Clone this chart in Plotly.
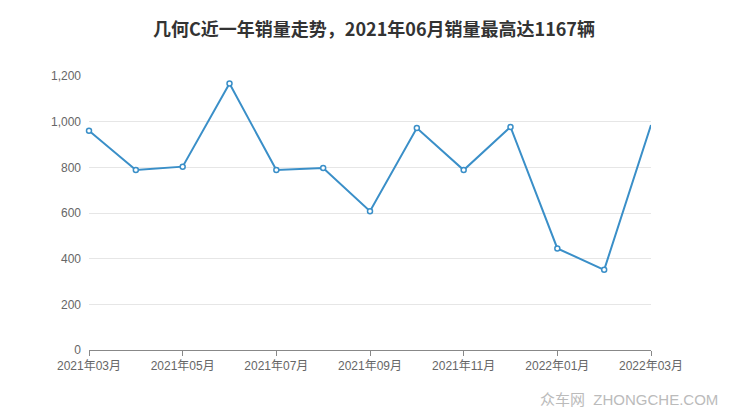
import plotly.graph_objects as go

months = ["2021年03月", "2021年04月", "2021年05月", "2021年06月", "2021年07月",
          "2021年08月", "2021年09月", "2021年10月", "2021年11月", "2021年12月",
          "2022年01月", "2022年02月", "2022年03月"]
sales = [960, 788, 803, 1167, 788, 797, 608, 972, 788, 977, 445, 351, 985]
tick_labels = months[::2]
y_ticks = [0, 200, 400, 600, 800, 1000, 1200]

FONT = "Liberation Sans, Noto Sans CJK SC, sans-serif"
BLUE = "#3a8fc8"

# page body has an 8px margin, so the figure is drawn 8px in from the corner
W, H = 732, 409
L, R, T, B = 81, 89, 68, 67
PW, PH = W - L - R, H - T - B

fig = go.Figure()
fig.add_trace(go.Scatter(
    x=months, y=sales, mode="lines",
    line=dict(color=BLUE, width=2),
    cliponaxis=False, hoverinfo="skip",
))
# the reference shows no marker on the final point
fig.add_trace(go.Scatter(
    x=months[:-1], y=sales[:-1], mode="markers",
    marker=dict(size=5, color="white", line=dict(color=BLUE, width=1.5)),
    cliponaxis=False,
))

fig.update_layout(
    width=W, height=H,
    margin=dict(l=L, r=R, t=T, b=B),
    paper_bgcolor="white", plot_bgcolor="white",
    showlegend=False,
    title=dict(text="几何C近一年销量走势，2021年06月销量最高达1167辆",
               x=0.5, xanchor="center", y=1 - 22 / H, yanchor="middle",
               font=dict(family="Noto Sans CJK SC, sans-serif", size=18, color="#333333", weight="bold")),
    font=dict(family=FONT, size=12, color="#666666"),
)
fig.update_xaxes(
    type="category", categoryorder="array", categoryarray=months,
    range=[0, len(months) - 1],
    tickmode="array", tickvals=tick_labels, ticktext=tick_labels,
    showgrid=False, showline=True, linecolor="#888888", linewidth=1,
    ticks="outside", ticklen=5, tickcolor="#888888",
    tickfont=dict(family=FONT, size=12, color="#666666"),
    zeroline=False, automargin=False,
)
fig.update_yaxes(
    range=[0, 1200], tickvals=y_ticks, tickformat=",",
    showgrid=True, gridcolor="#e6e6e6", gridwidth=1,
    zeroline=False, showline=False, ticks="", ticklen=0,
    tickfont=dict(family=FONT, size=12, color="#666666"),
    ticklabelstandoff=7, automargin=False,
)
fig.add_annotation(
    text="众车网  ZHONGCHE.COM", xref="paper", yref="paper",
    x=(712 - L) / PW, y=-(391 - (H - B)) / PH,
    xanchor="right", yanchor="middle", showarrow=False,
    font=dict(family=FONT, size=15, color="#bbbbbb"),
)
fig.write_html("out.html")
